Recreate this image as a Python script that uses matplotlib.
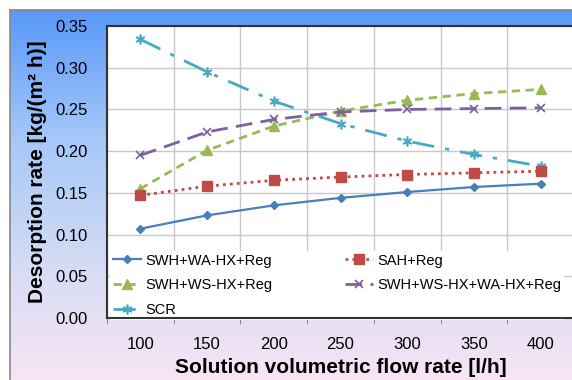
import numpy as np
import matplotlib
matplotlib.use("Agg")
import matplotlib.pyplot as plt
from matplotlib.colors import LinearSegmentedColormap

plt.rcParams['font.family'] = ['Liberation Sans', 'DejaVu Sans']

# data
flow_rate = [100, 150, 200, 250, 300, 350, 400]
swh_wa_hx = [0.107, 0.123, 0.135, 0.144, 0.151, 0.157, 0.161]
sah = [0.147, 0.158, 0.165, 0.169, 0.172, 0.174, 0.176]
swh_ws_hx = [0.155, 0.201, 0.230, 0.248, 0.261, 0.269, 0.274]
swh_ws_wa_hx = [0.195, 0.223, 0.238, 0.247, 0.250, 0.251, 0.252]
scr = [0.334, 0.295, 0.260, 0.233, 0.212, 0.196, 0.182]
y_ticks = [0.00, 0.05, 0.10, 0.15, 0.20, 0.25, 0.30, 0.35]

W, H = 572, 380
fig = plt.figure(figsize=(W / 100, H / 100), dpi=100)
fig.patch.set_facecolor('white')

# gradient background of the chart area
bg = fig.add_axes([10 / W, 0, 1 - 10 / W, 1 - 10 / H])
cmap = LinearSegmentedColormap.from_list(
    'bg', [(0.0, '#5898f8'), (0.35, '#a6c8f8'), (0.7, '#d6dcf4'), (1.0, '#f8e4f4')])
grad = np.linspace(0, 1, 256).reshape(-1, 1)
bg.imshow(grad, aspect='auto', cmap=cmap, extent=[0, 1, 1, 0])
bg.set_xticks([])
bg.set_yticks([])
for s in bg.spines.values():
    s.set_color('#888888')
    s.set_linewidth(1.2)
bg.spines['right'].set_visible(False)
bg.spines['bottom'].set_visible(False)

left, right, top, bottom = 107, 574, 26, 318
ax = fig.add_axes([left / W, 1 - bottom / H, (right - left) / W, (bottom - top) / H])
ax.set_facecolor('white')

x = np.arange(1, len(flow_rate) + 1)
ax.plot(x, swh_wa_hx, color='#4a7ebb', lw=1.6, marker='D', ms=4.5,
        label='SWH+WA-HX+Reg')
ax.plot(x, swh_ws_hx, color='#98b954', lw=2, ls=(0, (3, 2)), marker='^', ms=6.5,
        label='SWH+WS-HX+Reg')
ax.plot(x, scr, color='#46aac5', lw=2, ls=(0, (8, 4, 1.5, 4)), marker=(6, 2, 0), ms=7,
        mew=1.2, label='SCR')
ax.plot(x, sah, color='#be4b48', lw=2, ls=(0, (1, 1.5)), marker='s', ms=6.5,
        label='SAH+Reg')
ax.plot(x, swh_ws_wa_hx, color='#7d60a0', lw=2, ls=(0, (6, 3)), marker='x', ms=6,
        mew=1.2, label='SWH+WS-HX+WA-HX+Reg')

ax.set_xlim(0.5, 7.5)
ax.set_ylim(0, 0.35)
ax.set_xticks(x)
ax.set_xticklabels([str(v) for v in flow_rate])
ax.set_xticks(np.arange(0.5, 7.6, 1), minor=True)
ax.set_yticks(y_ticks)
ax.set_yticklabels(['%.2f' % v for v in y_ticks])
ax.tick_params(axis='x', which='major', length=0, labelsize=12, pad=14)
ax.tick_params(axis='x', which='minor', length=4, color='#777777')
ax.tick_params(axis='y', length=0, labelsize=12, pad=14)
ax.grid(axis='y', color='#c8c8c8', lw=1)
ax.grid(axis='x', which='minor', color='#c8c8c8', lw=1)
ax.set_axisbelow(True)
for s in ['left', 'top', 'bottom']:
    ax.spines[s].set_color('#333333')
    ax.spines[s].set_linewidth(1.5)
ax.spines['right'].set_visible(False)

ax.set_xlabel('Solution volumetric flow rate [l/h]', fontsize=15, fontweight='bold',
              labelpad=4)
ax.set_ylabel('Desorption rate [kg/(m² h)]', fontsize=15, fontweight='bold', labelpad=6)

leg = ax.legend(ncol=2, loc='lower left', bbox_to_anchor=(0.0, -0.018),
                fontsize=10.5, frameon=True, framealpha=1, edgecolor='white',
                handlelength=1.9, handletextpad=0.3, labelspacing=0.75,
                columnspacing=5.0, borderpad=0.2, borderaxespad=0.2)
leg.get_frame().set_linewidth(0)
leg.set_zorder(2.2)  # keep the axis line on top of the legend box

fig.savefig('out.png', dpi=100)
